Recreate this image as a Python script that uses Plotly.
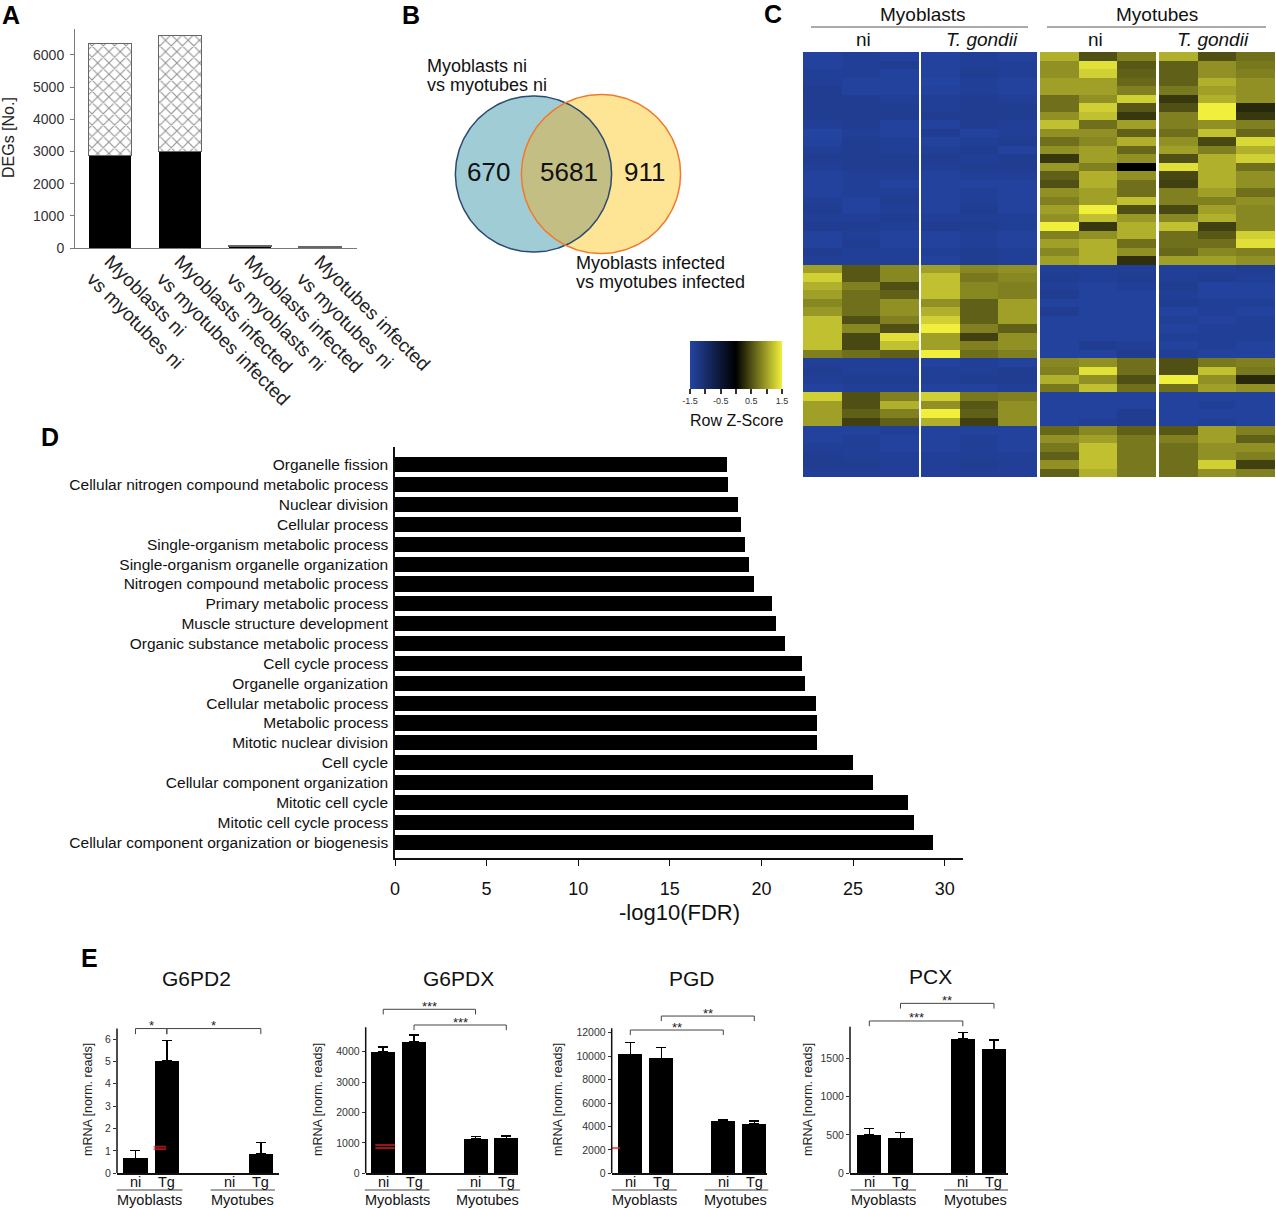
import numpy as np
import plotly.graph_objects as go

W, H = 1276, 1208
FONT = "Liberation Sans, Arial, Helvetica, sans-serif"


def px(x):
    return x / W


def py(y):
    return 1 - y / H


# ---------------- Panel A data ----------------
deg_comparisons = [
    "Myoblasts ni<br>vs myotubes ni",
    "Myoblasts infected<br>vs myotubes infected",
    "Myoblasts infected<br>vs myoblasts ni",
    "Myotubes infected<br>vs myotubes ni",
]
deg_lower = [2870, 3010, 50, 22]
deg_upper = [3481, 3582, 22, 12]
deg_ticks = [0, 1000, 2000, 3000, 4000, 5000, 6000]

# ---------------- Panel B data ----------------
venn_only_ni = 670
venn_shared = 5681
venn_only_inf = 911
venn_label_a = ["Myoblasts ni", "vs myotubes ni"]
venn_label_b = ["Myoblasts infected", "vs myotubes infected"]

# ---------------- Panel C data ----------------
heat_groups = ["Myoblasts", "Myotubes"]
heat_conditions = ["ni", "<i>T. gondii</i>", "ni", "<i>T. gondii</i>"]
heat_z = [
    [-1.45, -1.4, -1.45, -1.45, -1.4, -1.45, 1.1, 0.5, 0.8, 1.1, 0.5, 0.7],
    [-1.45, -1.4, -1.35, -1.45, -1.4, -1.4, 0.9, 1.4, 0.55, 0.6, 0.9, 0.75],
    [-1.4, -1.4, -1.45, -1.45, -1.35, -1.4, 0.9, 1.3, 0.6, 0.6, 0.9, 0.8],
    [-1.4, -1.45, -1.45, -1.5, -1.4, -1.45, 1.0, 1.0, 0.65, 0.6, 1.1, 0.9],
    [-1.35, -1.45, -1.45, -1.45, -1.4, -1.45, 1.0, 1.0, 0.8, 0.75, 1.0, 0.9],
    [-1.35, -1.35, -1.4, -1.4, -1.35, -1.4, 0.7, 0.9, 1.3, 0.35, 1.1, 0.9],
    [-1.35, -1.35, -1.35, -1.4, -1.35, -1.35, 0.7, 1.3, 0.55, 0.5, 1.6, 0.25],
    [-1.35, -1.35, -1.35, -1.35, -1.35, -1.35, 0.9, 1.2, 0.35, 0.8, 1.5, 0.35],
    [-1.4, -1.35, -1.45, -1.45, -1.35, -1.4, 1.2, 0.7, 1.0, 0.8, 0.9, 0.8],
    [-1.5, -1.4, -1.45, -1.35, -1.45, -1.4, 0.9, 0.9, 0.6, 0.7, 1.2, 0.65],
    [-1.45, -1.35, -1.4, -1.45, -1.4, -1.35, 0.7, 0.85, 1.1, 0.9, 0.45, 1.35],
    [-1.4, -1.35, -1.4, -1.4, -1.35, -1.45, 0.9, 1.0, 0.65, 1.0, 0.8, 1.1],
    [-1.35, -1.35, -1.35, -1.35, -1.4, -1.35, 0.35, 1.0, 0.9, 0.5, 1.1, 1.3],
    [-1.4, -1.35, -1.35, -1.4, -1.35, -1.35, 0.95, 0.8, 0.0, 1.4, 1.1, 0.7],
    [-1.45, -1.4, -1.4, -1.45, -1.4, -1.4, 0.6, 1.1, 0.9, 0.45, 1.1, 0.9],
    [-1.45, -1.4, -1.45, -1.45, -1.45, -1.45, 0.5, 1.1, 0.7, 0.4, 1.1, 0.9],
    [-1.45, -1.4, -1.4, -1.45, -1.4, -1.45, 0.9, 1.0, 0.7, 0.8, 1.0, 0.7],
    [-1.4, -1.45, -1.35, -1.45, -1.4, -1.45, 0.8, 1.0, 1.2, 0.8, 0.8, 0.9],
    [-1.35, -1.45, -1.4, -1.45, -1.35, -1.45, 1.0, 1.5, 0.5, 0.45, 1.0, 0.85],
    [-1.4, -1.4, -1.35, -1.4, -1.4, -1.4, 0.9, 1.2, 0.95, 0.85, 1.1, 0.85],
    [-1.35, -1.35, -1.4, -1.35, -1.35, -1.4, 1.5, 0.35, 1.1, 1.2, 0.4, 0.85],
    [-1.45, -1.4, -1.45, -1.45, -1.4, -1.45, 0.8, 0.9, 1.1, 0.7, 0.55, 1.3],
    [-1.45, -1.35, -1.45, -1.45, -1.4, -1.45, 1.0, 1.1, 0.7, 0.7, 0.7, 1.4],
    [-1.35, -1.4, -1.4, -1.4, -1.35, -1.4, 0.85, 1.1, 0.9, 0.65, 0.85, 0.8],
    [-1.4, -1.4, -1.4, -1.45, -1.35, -1.4, 1.0, 1.1, 0.3, 1.0, 1.0, 0.9],
    [1.0, 0.55, 0.85, 1.0, 0.85, 0.9, -1.4, -1.4, -1.4, -1.4, -1.4, -1.35],
    [1.3, 0.55, 0.85, 1.2, 0.75, 0.85, -1.35, -1.4, -1.35, -1.4, -1.35, -1.4],
    [1.1, 0.8, 0.5, 1.2, 0.85, 0.8, -1.4, -1.45, -1.4, -1.35, -1.45, -1.45],
    [1.0, 0.7, 0.6, 1.2, 0.85, 0.8, -1.35, -1.45, -1.45, -1.4, -1.45, -1.45],
    [0.85, 0.7, 0.9, 0.9, 0.6, 1.0, -1.45, -1.45, -1.45, -1.35, -1.4, -1.4],
    [0.95, 0.7, 0.9, 1.1, 0.6, 1.0, -1.35, -1.45, -1.45, -1.45, -1.4, -1.45],
    [1.2, 0.5, 0.8, 1.3, 0.6, 1.0, -1.45, -1.45, -1.45, -1.4, -1.45, -1.4],
    [1.2, 0.85, 0.5, 1.5, 0.8, 0.6, -1.45, -1.45, -1.45, -1.45, -1.4, -1.4],
    [1.2, 0.45, 1.4, 1.0, 0.4, 0.9, -1.45, -1.45, -1.45, -1.4, -1.4, -1.4],
    [1.2, 0.45, 1.2, 1.0, 0.8, 0.9, -1.45, -1.35, -1.4, -1.45, -1.4, -1.45],
    [0.8, 0.7, 0.6, 1.5, 0.7, 0.8, -1.45, -1.45, -1.35, -1.4, -1.45, -1.45],
    [-1.4, -1.4, -1.4, -1.45, -1.4, -1.45, 0.85, 0.9, 0.7, 0.5, 0.75, 0.8],
    [-1.35, -1.4, -1.4, -1.4, -1.4, -1.35, 0.8, 1.4, 0.7, 0.5, 1.2, 0.75],
    [-1.4, -1.35, -1.35, -1.4, -1.35, -1.35, 1.1, 0.9, 0.5, 1.5, 0.9, 0.25],
    [-1.45, -1.4, -1.4, -1.45, -1.45, -1.4, 0.75, 1.2, 0.7, 0.7, 1.0, 0.9],
    [1.3, 0.5, 0.8, 1.3, 0.75, 0.8, -1.45, -1.45, -1.45, -1.45, -1.45, -1.45],
    [1.0, 0.5, 1.1, 0.9, 0.55, 0.9, -1.45, -1.45, -1.45, -1.45, -1.4, -1.45],
    [1.0, 0.6, 0.8, 1.5, 0.6, 0.9, -1.45, -1.45, -1.35, -1.45, -1.45, -1.45],
    [1.0, 0.4, 0.6, 1.1, 0.4, 0.9, -1.45, -1.4, -1.35, -1.45, -1.4, -1.45],
    [-1.45, -1.45, -1.4, -1.45, -1.45, -1.45, 0.65, 0.85, 0.6, 0.55, 1.0, 0.8],
    [-1.45, -1.4, -1.45, -1.45, -1.4, -1.45, 0.9, 1.0, 0.75, 0.8, 1.0, 0.6],
    [-1.4, -1.4, -1.45, -1.45, -1.4, -1.45, 0.75, 1.2, 0.75, 0.7, 0.9, 0.9],
    [-1.35, -1.4, -1.4, -1.4, -1.4, -1.4, 0.6, 1.2, 0.75, 0.7, 0.9, 0.8],
    [-1.35, -1.35, -1.4, -1.4, -1.35, -1.4, 0.9, 1.2, 0.75, 0.7, 1.3, 0.4],
    [-1.4, -1.4, -1.4, -1.4, -1.4, -1.4, 0.6, 1.1, 0.75, 0.7, 0.9, 0.8],
]
zscore_ticks = [-1.5, -1.0, -0.5, 0, 0.5, 1.0, 1.5]
zscore_ticktext = ["-1.5", "", "-0.5", "", "0.5", "", "1.5"]

# ---------------- Panel D data ----------------
go_terms = [
    "Organelle fission",
    "Cellular nitrogen compound metabolic process",
    "Nuclear division",
    "Cellular process",
    "Single-organism metabolic process",
    "Single-organism organelle organization",
    "Nitrogen compound metabolic process",
    "Primary metabolic process",
    "Muscle structure development",
    "Organic substance metabolic process",
    "Cell cycle process",
    "Organelle organization",
    "Cellular metabolic process",
    "Metabolic process",
    "Mitotic nuclear division",
    "Cell cycle",
    "Cellular component organization",
    "Mitotic cell cycle",
    "Mitotic cell cycle process",
    "Cellular component organization or biogenesis",
]
go_log_fdr = [18.1, 18.15, 18.7, 18.9, 19.1, 19.3, 19.6, 20.6, 20.8, 21.3,
              22.2, 22.4, 23.0, 23.05, 23.05, 25.0, 26.1, 28.0, 28.33, 29.37]
fdr_ticks = [0, 5, 10, 15, 20, 25, 30]

# ---------------- Panel E data ----------------
genes = ["G6PD2", "G6PDX", "PGD", "PCX"]
cond_pos = [0, 1, 3, 4]
cond_labels = ["ni", "Tg", "ni", "Tg"]
cell_groups = ["Myoblasts", "Myotubes"]
g6pd2_mean = [0.67, 5.01, 0, 0.86]
g6pd2_err = [0.35, 0.93, None, 0.52]
g6pdx_mean = [3990, 4330, 1140, 1150]
g6pdx_err = [170, 220, 65, 75]
pgd_mean = [10150, 9800, 4450, 4250]
pgd_err = [1030, 950, 90, 200]
pcx_mean = [500, 457, 1752, 1617]
pcx_err = [87, 73, 83, 122]
g6pd2_ticks = [0, 1, 2, 3, 4, 5, 6]
g6pdx_ticks = [0, 1000, 2000, 3000, 4000]
pgd_ticks = [0, 2000, 4000, 6000, 8000, 10000, 12000]
pcx_ticks = [0, 500, 1000, 1500]
# significance brackets: (from position, to position, height, stars)
g6pd2_sig = [(0, 1, 6.47, "*"), (1, 4, 6.47, "*")]
g6pdx_sig = [(0, 3, 5395, "***"), (1, 4, 4878, "***")]
pgd_sig = [(0, 3, 12227, "**"), (1, 4, 13420, "**")]
pcx_sig = [(0, 3, 1987, "***"), (1, 4, 2217, "**")]

# ---------------------------------------------------------------
fig = go.Figure()
annotations = []
shapes = []


def add_text(text, x, y, size, color="#111", xanchor="center", yanchor="middle",
             bold=False, angle=0):
    if bold:
        text = "<b>" + text + "</b>"
    annotations.append(dict(text=text, x=px(x), y=py(y), xref="paper", yref="paper",
                            showarrow=False, xanchor=xanchor, yanchor=yanchor,
                            textangle=angle,
                            font=dict(size=size, color=color, family=FONT)))


# ---------------- Panel A ----------------
fig.add_trace(go.Bar(x=deg_comparisons, y=deg_lower, width=0.61,
                     marker=dict(color="black", line=dict(width=0)),
                     xaxis="x", yaxis="y", hoverinfo="skip"))
fig.add_trace(go.Bar(x=deg_comparisons, y=deg_upper, width=0.61,
                     marker=dict(color="white", line=dict(color="#666", width=1),
                                 pattern=dict(shape="x", fgcolor="#222", bgcolor="white",
                                              size=8, solidity=0.25)),
                     xaxis="x", yaxis="y", hoverinfo="skip"))
axis_layout = dict(
    xaxis=dict(domain=[px(75), px(357)], range=[-0.5, 3.53], anchor="y",
               showline=True, linecolor="#7a7a7a", linewidth=1, ticks="",
               tickangle=45, tickfont=dict(size=19, color="#222"), showgrid=False,
               ticklabelstandoff=-6),
    yaxis=dict(domain=[py(248), py(29)], range=[0, 6808], anchor="x",
               showline=True, linecolor="#7a7a7a", linewidth=1, ticks="outside",
               ticklen=4, tickcolor="#7a7a7a", tickvals=deg_ticks,
               tickfont=dict(size=14, color="#333"), showgrid=False, zeroline=False,
               ticklabelstandoff=3),
)
add_text("DEGs [No.]", 9, 138, 16, color="#222", angle=-90)

# ---------------- Panel B (Venn) ----------------
rA = 0.98 * np.sqrt(venn_only_ni + venn_shared)
rB = 0.98 * np.sqrt(venn_only_inf + venn_shared)
cAx, cBx, cy = 93.5, 161.0, 88.0
t = np.linspace(0, 2 * np.pi, 240)
d = cBx - cAx
a = (rA ** 2 - rB ** 2 + d ** 2) / (2 * d)
h = np.sqrt(rA ** 2 - a ** 2)
phiA = np.arctan2(h, a)
phiB = np.arctan2(h, a - d)
tA = np.linspace(-phiA, phiA, 120)
tB = np.linspace(phiB, 2 * np.pi - phiB, 120)
lens_x = np.concatenate([cAx + rA * np.cos(tA), cBx + rB * np.cos(tB)])
lens_y = np.concatenate([cy + rA * np.sin(tA), cy + rB * np.sin(tB)])
for xs, ys, fc in [(cAx + rA * np.cos(t), cy + rA * np.sin(t), "#a0ccd6"),
                   (cBx + rB * np.cos(t), cy + rB * np.sin(t), "#fee596"),
                   (lens_x, lens_y, "#c3be83")]:
    fig.add_trace(go.Scatter(x=xs, y=ys, mode="lines", fill="toself", fillcolor=fc,
                             line=dict(width=0), xaxis="x2", yaxis="y2", hoverinfo="skip"))
fig.add_trace(go.Scatter(x=cAx + rA * np.cos(t), y=cy + rA * np.sin(t), mode="lines",
                         line=dict(color="#2b4a72", width=1.5), xaxis="x2", yaxis="y2",
                         hoverinfo="skip"))
fig.add_trace(go.Scatter(x=cBx + rB * np.cos(t), y=cy + rB * np.sin(t), mode="lines",
                         line=dict(color="#f07a2e", width=1.5), xaxis="x2", yaxis="y2",
                         hoverinfo="skip"))
axis_layout["xaxis2"] = dict(domain=[px(440), px(700)], range=[0, 260], visible=False,
                             anchor="y2")
axis_layout["yaxis2"] = dict(domain=[py(262), py(88)], range=[0, 174], visible=False,
                             anchor="x2")
add_text(str(venn_only_ni), 488, 172, 26)
add_text(str(venn_shared), 569, 172, 26)
add_text(str(venn_only_inf), 645, 172, 26)
add_text(venn_label_a[0], 425, 66, 18, xanchor="left")
add_text(venn_label_a[1], 425, 85, 18, xanchor="left")
add_text(venn_label_b[0], 574, 263, 18, xanchor="left")
add_text(venn_label_b[1], 574, 282, 18, xanchor="left")

# ---------------- Panel C (heatmap) ----------------
zscale = [[0, "#2444a2"], [0.5, "#000000"], [1, "#f0f03c"]]
heat_x_domains = [(803, 919), (921, 1037), (1040, 1156), (1159, 1275)]
colorbar = dict(orientation="h", x=px(736), xanchor="center", y=py(341), yanchor="top",
                len=92, lenmode="pixels", thickness=48, thicknessmode="pixels",
                xpad=0, ypad=0, outlinewidth=0, ticks="outside", ticklen=5,
                tickwidth=1.5, tickcolor="#333", tickvals=zscore_ticks,
                ticktext=zscore_ticktext, tickfont=dict(size=9, color="#333", family=FONT))
nrows = len(heat_z)
for g in range(4):
    n = 3 + g
    trace = go.Heatmap(z=[row[3 * g:3 * g + 3] for row in heat_z], x=[0, 1, 2],
                       y=list(range(nrows)), zmin=-1.5, zmax=1.5, colorscale=zscale,
                       showscale=(g == 0), xaxis=f"x{n}", yaxis=f"y{n}", hoverinfo="skip")
    if g == 0:
        trace.colorbar = colorbar
    fig.add_trace(trace)
    x0, x1 = heat_x_domains[g]
    axis_layout[f"xaxis{n}"] = dict(domain=[px(x0), px(x1)], range=[-0.5, 2.5],
                                    visible=False, anchor=f"y{n}")
    axis_layout[f"yaxis{n}"] = dict(domain=[py(477), py(52)], range=[nrows - 0.5, -0.5],
                                    visible=False, anchor=f"x{n}")
add_text(heat_groups[0], 923, 14, 19)
add_text(heat_groups[1], 1157, 14, 19)
for cx, lab in zip([863, 982, 1095, 1213], heat_conditions):
    add_text(lab, cx, 40, 19)
for x0, x1 in [(811, 1028), (1047, 1266)]:
    shapes.append(dict(type="line", xref="paper", yref="paper", x0=px(x0), x1=px(x1),
                       y0=py(27), y1=py(27), line=dict(color="#555", width=1)))
add_text("Row Z-Score", 736, 421, 16)

# ---------------- Panel D ----------------
fig.add_trace(go.Bar(x=go_log_fdr, y=go_terms, orientation="h", width=0.76,
                     marker=dict(color="black", line=dict(width=0)),
                     xaxis="x7", yaxis="y7", hoverinfo="skip"))
axis_layout["xaxis7"] = dict(domain=[px(395), px(963)], range=[0, 31.0], anchor="y7",
                             showline=True, linecolor="#111", linewidth=1.5,
                             ticks="outside", ticklen=6, tickcolor="#111", tickwidth=1.2,
                             tickvals=fdr_ticks, tickfont=dict(size=18, color="#111"),
                             showgrid=False, zeroline=False, ticklabelstandoff=8)
axis_layout["yaxis7"] = dict(domain=[py(858), py(447)], type="category",
                             range=[len(go_terms) - 0.2, -0.9], anchor="x7",
                             showline=True, linecolor="#111", linewidth=1.5, ticks="",
                             tickfont=dict(size=15.5, color="#111"), showgrid=False,
                             ticklabelstandoff=2)
add_text("-log10(FDR)", 679, 913, 22)

# ---------------- Panel E ----------------
e_means = [g6pd2_mean, g6pdx_mean, pgd_mean, pcx_mean]
e_errs = [g6pd2_err, g6pdx_err, pgd_err, pcx_err]
e_ticks = [g6pd2_ticks, g6pdx_ticks, pgd_ticks, pcx_ticks]
e_sigs = [g6pd2_sig, g6pdx_sig, pgd_sig, pcx_sig]
e_x_domains = [(117, 279), (365.7, 518.3), (611.7, 766.7), (850, 1008.3)]
e_x_ranges = [(-0.59, 4.58), (-0.57, 4.39), (-0.6, 4.4), (-0.62, 4.46)]
e_y_max = [7.97, 5865, 15217, 2326]
e_axis_top = [6.47, 4803, 12370, 1913]
e_drop = [0.25, 170, 430, 68]
e_title_xy = [(196.7, 978), (458.3, 978), (691.7, 978), (931, 976)]
e_ytitle_x = [88, 318, 558, 808]
artifact_marks = [
    [(0.78, 1.08, "#e02020", 9), (0.78, 1.19, "#e02020", 9)],
    [(0.06, 930, "#e02020", 14), (0.06, 830, "#e02020", 14)],
    [(-0.46, 2150, "#e02020", 6)],
    [(-1.07, 335, "#5cc6df", 18), (-1.07, 290, "#5cc6df", 18)],
]

for i, gene in enumerate(genes):
    n = 8 + i
    xr = e_x_ranges[i]
    fig.add_trace(go.Bar(x=cond_pos, y=e_means[i], width=0.78,
                         marker=dict(color="black", line=dict(width=0)),
                         error_y=dict(type="data", array=e_errs[i],
                                      arrayminus=[0] * len(e_errs[i]), symmetric=False,
                                      color="black", thickness=1.5, width=5),
                         xaxis=f"x{n}", yaxis=f"y{n}", hoverinfo="skip"))
    marks = artifact_marks[i]
    fig.add_trace(go.Scatter(x=[m[0] for m in marks], y=[m[1] for m in marks],
                             mode="markers", cliponaxis=False,
                             marker=dict(symbol="line-ew", size=[m[3] for m in marks],
                                         line=dict(color=[m[2] for m in marks], width=2)),
                             xaxis=f"x{n}", yaxis=f"y{n}", hoverinfo="skip"))
    x0, x1 = e_x_domains[i]
    axis_layout[f"xaxis{n}"] = dict(domain=[px(x0), px(x1)], range=list(xr),
                                    anchor=f"y{n}", showline=True, linecolor="#111",
                                    linewidth=1.5, ticks="", showticklabels=False,
                                    showgrid=False, zeroline=False)
    axis_layout[f"yaxis{n}"] = dict(domain=[py(1173.3), py(995)], range=[0, e_y_max[i]],
                                    anchor=f"x{n}", showline=False, ticks="outside",
                                    ticklen=3, tickcolor="#333", tickvals=e_ticks[i],
                                    tickformat="d",
                                    tickfont=dict(size=10.5, color="#333"),
                                    showgrid=False, zeroline=False)
    # y axis line up to the top value
    shapes.append(dict(type="line", xref=f"x{n} domain", yref=f"y{n}", x0=0, x1=0,
                       y0=0, y1=e_axis_top[i], line=dict(color="#111", width=1.5)))
    # condition labels under the bars
    for cp, cl in zip(cond_pos, cond_labels):
        annotations.append(dict(text=cl, x=cp, y=py(1182), xref=f"x{n}", yref="paper",
                                showarrow=False, yanchor="middle",
                                font=dict(size=14.5, color="#111", family=FONT)))
    # significance brackets
    for (a0, a1, yv, stars) in e_sigs[i]:
        yd = yv - e_drop[i]
        shapes.append(dict(type="path", xref=f"x{n}", yref=f"y{n}",
                           path=f"M {a0} {yd} L {a0} {yv} L {a1} {yv} L {a1} {yd}",
                           line=dict(color="#444", width=1)))
        annotations.append(dict(text=stars, x=(a0 + a1) / 2, y=yv, xref=f"x{n}",
                                yref=f"y{n}", showarrow=False, yanchor="middle",
                                yshift=3, font=dict(size=13, color="#222", family=FONT)))
    # group underlines and labels
    span = xr[1] - xr[0]
    for (g0, g1, gc), gname in zip([(-0.6, 1.5, 0.45), (2.4, 4.45, 3.4)], cell_groups):
        shapes.append(dict(type="line", xref=f"x{n} domain", yref="paper",
                           x0=(g0 - xr[0]) / span, x1=(g1 - xr[0]) / span,
                           y0=py(1190), y1=py(1190), line=dict(color="#444", width=1)))
        annotations.append(dict(text=gname, x=gc, y=py(1200), xref=f"x{n}", yref="paper",
                                showarrow=False, yanchor="middle",
                                font=dict(size=14.5, color="#111", family=FONT)))
    tx, ty = e_title_xy[i]
    add_text(gene, tx, ty, 21)
    add_text("mRNA [norm. reads]", e_ytitle_x[i], 1100, 12.5, color="#222", angle=-90)

# ---------------- panel letters ----------------
for letter, lx, ly in [("A", 11, 15), ("B", 411, 15), ("C", 773, 14), ("D", 50, 437),
                       ("E", 89, 958)]:
    add_text(letter, lx, ly, 25, color="#000", bold=True)

fig.update_layout(
    width=W, height=H, margin=dict(l=0, r=0, t=0, b=0, autoexpand=False),
    paper_bgcolor="white", plot_bgcolor="rgba(0,0,0,0)",
    font=dict(family=FONT, color="#111"),
    barmode="stack", showlegend=False, hovermode=False,
    annotations=annotations, shapes=shapes,
    **axis_layout,
)

page_fix = ("document.body.style.margin='0';document.body.style.padding='0';"
            "document.documentElement.style.overflow='hidden';"
            "document.body.style.overflow='hidden';")
fig.write_html("out.html", config={"displayModeBar": False}, post_script=page_fix)
